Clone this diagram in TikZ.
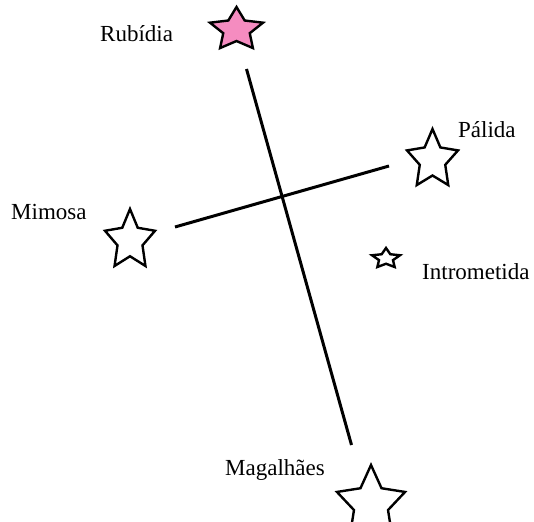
\documentclass[tikz,border=0pt]{standalone}
\usepackage{fontspec}
\setmainfont{Liberation Serif}
\definecolor{starpink}{RGB}{245,140,192}
\tikzset{
  starline/.style={line width=2.4pt, line join=miter, draw=black},
  crossline/.style={line width=3pt, draw=black},
  starlabel/.style={inner sep=0pt, anchor=base west, font=\fontsize{23}{27}\selectfont}
}
\newcommand\drawmystar[5]{%
  \begin{scope}[shift={(#1,#2)}, xscale=#3, yscale=#4]
    \draw[starline, fill=#5] (90:1) -- (126:0.5) -- (162:1) -- (198:0.5) -- (234:1)
      -- (270:0.5) -- (306:1) -- (342:0.5) -- (18:1) -- (54:0.5) -- cycle;
  \end{scope}}
\begin{document}
\begin{tikzpicture}[x=1pt,y=1pt]
  \useasboundingbox (0,0) rectangle (534,-521);
  % star centres
  \coordinate (rubidia) at (236.5,-29.7);
  \coordinate (palida) at (432.5,-160);
  \coordinate (mimosa) at (130,-240.5);
  \coordinate (intrometida) at (386,-258.5);
  \coordinate (magalhaes) at (371,-504);
  % stars
  \drawmystar{236.5}{-29.7}{27.9}{22.7}{starpink}
  \drawmystar{432.5}{-160}{26.8}{31}{white}
  \drawmystar{130}{-240.5}{26.3}{31.5}{white}
  \drawmystar{386}{-258.5}{14.7}{10.5}{white}
  \drawmystar{371}{-504}{35.8}{39}{white}
  % cross
  \coordinate (crossTop) at (246.5,-69);
  \coordinate (crossBottom) at (351.5,-445);
  \coordinate (crossLeft) at (175,-227);
  \coordinate (crossRight) at (389,-166);
  \draw[crossline] (crossTop) -- (crossBottom);
  \draw[crossline] (crossLeft) -- (crossRight);
  % labels
  \node[starlabel] (lRubidia) at (100,-42) {Rubídia};
  \node[starlabel] (lPalida) at (458,-138) {Pálida};
  \node[starlabel] (lMimosa) at (11,-219) {Mimosa};
  \node[starlabel] (lIntrometida) at (422,-279) {Intrometida};
  \node[starlabel] (lMagalhaes) at (225,-475) {Magalhães};
\end{tikzpicture}
\end{document}
